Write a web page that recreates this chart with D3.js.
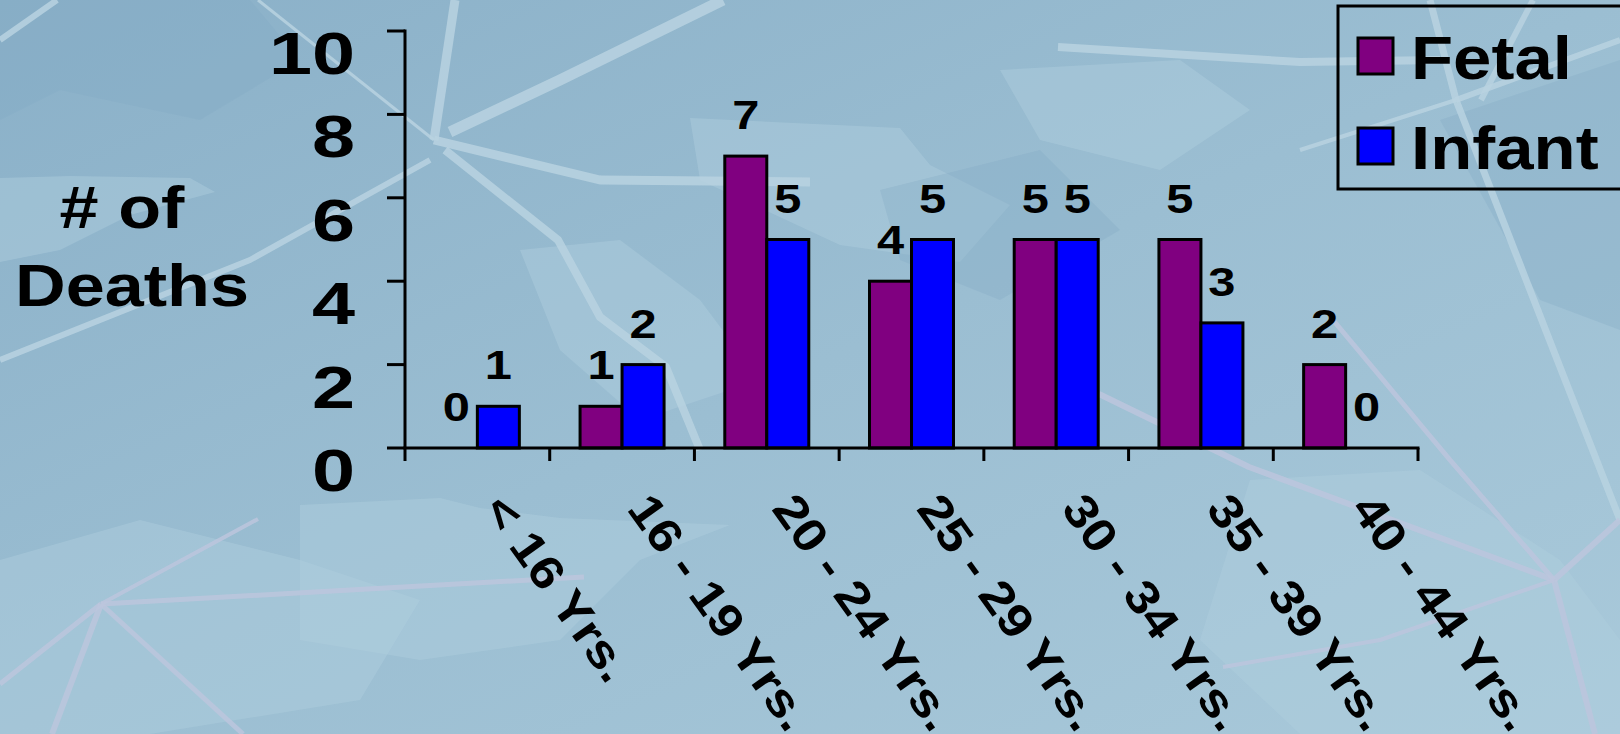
<!DOCTYPE html>
<html>
<head>
<meta charset="utf-8">
<script src="https://cdn.jsdelivr.net/npm/d3@7"></script>
<style>
  body { margin: 0; overflow: hidden; }
  svg { display: block; }
</style>
</head>
<body>
<svg width="1620" height="734"></svg>
<script>
// chart data
var categories = ["< 16 Yrs.", "16 - 19 Yrs.", "20 - 24 Yrs.", "25 - 29 Yrs.", "30 - 34 Yrs.", "35 - 39 Yrs.", "40 - 44 Yrs."];
var seriesNames = ["Fetal", "Infant"];
var fetal = [0, 1, 7, 4, 5, 5, 2];
var infant = [1, 2, 5, 5, 5, 3, 0];
var seriesColors = ["#800080", "#0000ff"];
var yTicks = [0, 2, 4, 6, 8, 10];

var FONT = "'Liberation Sans', Arial, sans-serif";

var svg = d3.select("svg"),
    width = +svg.attr("width"),
    height = +svg.attr("height");

// ---- background (slide texture) ----
var defs = svg.append("defs");
var grad = defs.append("linearGradient")
    .attr("id", "bg").attr("x1", "0").attr("y1", "0").attr("x2", "1").attr("y2", "1");
grad.append("stop").attr("offset", "0").attr("stop-color", "#8ab0c8");
grad.append("stop").attr("offset", "0.5").attr("stop-color", "#9bbed2");
grad.append("stop").attr("offset", "1").attr("stop-color", "#a9c9da");

svg.append("rect").attr("width", width).attr("height", height).attr("fill", "url(#bg)");

var lightShards = [
    [[0,178],[70,176],[190,178],[215,192],[130,215],[60,250],[0,262]],
    [[300,505],[440,498],[480,508],[560,518],[730,525],[640,560],[560,640],[420,660],[300,640]],
    [[690,118],[900,128],[930,165],[1010,205],[960,262],[840,245],[700,180]],
    [[520,250],[620,240],[700,300],[760,380],[640,420],[560,350]],
    [[0,560],[140,520],[300,560],[420,600],[360,700],[150,734],[0,734]],
    [[1000,70],[1180,60],[1250,110],[1160,170],[1040,140]],
    [[1250,480],[1420,470],[1560,560],[1620,640],[1620,734],[1300,734],[1200,640]]
];
var darkShards = [
    [[0,0],[250,0],[300,60],[200,120],[60,90],[0,120]],
    [[880,190],[1040,150],[1120,230],[1000,300],[900,260]],
    [[1440,120],[1620,60],[1620,330],[1540,300]]
];
svg.append("g").selectAll("polygon.light").data(lightShards).enter().append("polygon")
    .attr("points", function (d) { return d.join(" "); })
    .attr("fill", "#b0cedd").attr("opacity", 0.45);
svg.append("g").selectAll("polygon.dark").data(darkShards).enter().append("polygon")
    .attr("points", function (d) { return d.join(" "); })
    .attr("fill", "#82a9c2").attr("opacity", 0.3);

var cracks = [
    {p: [[434,140],[455,0]], w: 9},
    {p: [[450,132],[560,80],[723,0]], w: 11},
    {p: [[434,140],[600,180],[810,182]], w: 9},
    {p: [[445,150],[558,240],[600,317],[666,367],[700,450]], w: 8},
    {p: [[258,0],[434,140]], w: 3},
    {p: [[430,160],[250,260],[0,360]], w: 6},
    {p: [[0,40],[57,0]], w: 6},
    {p: [[1058,47],[1300,62],[1440,60]], w: 8},
    {p: [[1430,0],[1456,100],[1560,367],[1620,520]], w: 7},
    {p: [[1533,0],[1481,100]], w: 6},
    {p: [[1456,100],[1620,40]], w: 6},
    {p: [[1300,150],[1456,100]], w: 4}
];
var lavender = [
    {p: [[101,604],[258,519]], w: 4},
    {p: [[101,604],[350,590],[584,577]], w: 5},
    {p: [[101,604],[0,684]], w: 5},
    {p: [[101,604],[52,734]], w: 6},
    {p: [[101,604],[243,734]], w: 5},
    {p: [[1099,394],[1249,467],[1554,580]], w: 6},
    {p: [[1554,580],[1620,520]], w: 6},
    {p: [[1554,580],[1595,734]], w: 6},
    {p: [[1554,580],[1380,640],[1223,667]], w: 4},
    {p: [[1333,320],[1450,460],[1554,580]], w: 5}
];
var line = d3.line();
svg.append("g").selectAll("path").data(cracks).enter().append("path")
    .attr("d", function (d) { return line(d.p); })
    .attr("fill", "none").attr("stroke", "#b8d2e0").attr("stroke-width", function (d) { return d.w; })
    .attr("stroke-linejoin", "round").attr("opacity", 0.85);
svg.append("g").selectAll("path").data(lavender).enter().append("path")
    .attr("d", function (d) { return line(d.p); })
    .attr("fill", "none").attr("stroke", "#bcc6dd").attr("stroke-width", function (d) { return d.w; })
    .attr("stroke-linejoin", "round").attr("opacity", 0.85);

// ---- scales ----
var x0 = d3.scaleBand().domain(categories).range([405, 1418]);
var x1 = d3.scaleBand().domain(seriesNames).range([-42, 42]);
var y = d3.scaleLinear().domain([0, 10]).range([448, 31]);
var color = d3.scaleOrdinal().domain(seriesNames).range(seriesColors);

var rows = categories.map(function (c, i) {
    return {cat: c, values: [
        {key: "Fetal", value: fetal[i]},
        {key: "Infant", value: infant[i]}
    ]};
});

// ---- bars ----
var groups = svg.append("g").selectAll("g.cat")
    .data(rows).enter().append("g")
    .attr("class", "cat")
    .attr("transform", function (d) { return "translate(" + (x0(d.cat) + x0.bandwidth() / 2) + ",0)"; });

groups.selectAll("rect")
    .data(function (d) { return d.values.filter(function (v) { return v.value > 0; }); })
    .enter().append("rect")
    .attr("x", function (d) { return x1(d.key); })
    .attr("y", function (d) { return y(d.value); })
    .attr("width", x1.bandwidth())
    .attr("height", function (d) { return y(0) - y(d.value); })
    .attr("fill", function (d) { return color(d.key); })
    .attr("stroke", "#000").attr("stroke-width", 3);

groups.selectAll("text")
    .data(function (d) { return d.values; })
    .enter().append("text")
    .attr("transform", function (d) {
        return "translate(" + (x1(d.key) + x1.bandwidth() / 2) + "," + (y(d.value) - 27) + ") scale(1.22,1)";
    })
    .attr("text-anchor", "middle")
    .style("font-family", FONT).style("font-weight", "bold").style("font-size", "40px")
    .text(function (d) { return d.value; });

// ---- axes ----
var axisG = svg.append("g").attr("stroke", "#000").attr("stroke-width", 3).attr("fill", "none");
axisG.append("line").attr("x1", x0.range()[0]).attr("x2", x0.range()[0]).attr("y1", y(10) - 1.5).attr("y2", y(0));
axisG.append("line").attr("x1", x0.range()[0] - 1.5).attr("x2", x0.range()[1] + 1.5).attr("y1", y(0)).attr("y2", y(0));
axisG.selectAll("line.yt").data(yTicks).enter().append("line")
    .attr("x1", x0.range()[0] - 18).attr("x2", x0.range()[0])
    .attr("y1", function (d) { return y(d); }).attr("y2", function (d) { return y(d); });
var xTickPos = categories.map(function (c) { return x0(c); }).concat([x0.range()[1]]);
axisG.selectAll("line.xt").data(xTickPos).enter().append("line")
    .attr("x1", function (d) { return d; }).attr("x2", function (d) { return d; })
    .attr("y1", y(0)).attr("y2", y(0) + 13);

svg.append("g").selectAll("text").data(yTicks).enter().append("text")
    .attr("transform", function (d) { return "translate(355," + (y(d) + 43) + ") scale(1.29,1)"; })
    .attr("text-anchor", "end")
    .style("font-family", FONT).style("font-weight", "bold").style("font-size", "60px")
    .text(function (d) { return d; });

svg.append("g").selectAll("text").data(categories).enter().append("text")
    .attr("transform", function (d) {
        return "translate(" + (x0(d) + x0.bandwidth() / 2 + 4) + ",509) rotate(54.5) scale(1.12,1)";
    })
    .style("font-family", FONT).style("font-weight", "bold").style("font-size", "47px")
    .text(function (d) { return d; });

// y title
var titleLines = [{t: "# of", cx: 122, by: 228}, {t: "Deaths", cx: 132, by: 306}];
svg.append("g").selectAll("text").data(titleLines).enter().append("text")
    .attr("transform", function (d) { return "translate(" + d.cx + "," + d.by + ") scale(1.17,1)"; })
    .attr("text-anchor", "middle")
    .style("font-family", FONT).style("font-weight", "bold").style("font-size", "60px")
    .text(function (d) { return d.t; });

// ---- legend ----
var legend = svg.append("g");
legend.append("rect").attr("x", 1338).attr("y", 6).attr("width", 320).attr("height", 183)
    .attr("fill", "none").attr("stroke", "#000").attr("stroke-width", 3);
var item = legend.selectAll("g.item").data(seriesNames).enter().append("g")
    .attr("transform", function (d, i) { return "translate(0," + (i * 90) + ")"; });
item.append("rect").attr("x", 1358).attr("y", 38).attr("width", 35).attr("height", 36)
    .attr("fill", function (d) { return color(d); })
    .attr("stroke", "#000").attr("stroke-width", 3);
item.append("text")
    .attr("transform", "translate(1411,79) scale(1.13,1)")
    .style("font-family", FONT).style("font-weight", "bold").style("font-size", "61px")
    .text(function (d) { return d; });
</script>
</body>
</html>
